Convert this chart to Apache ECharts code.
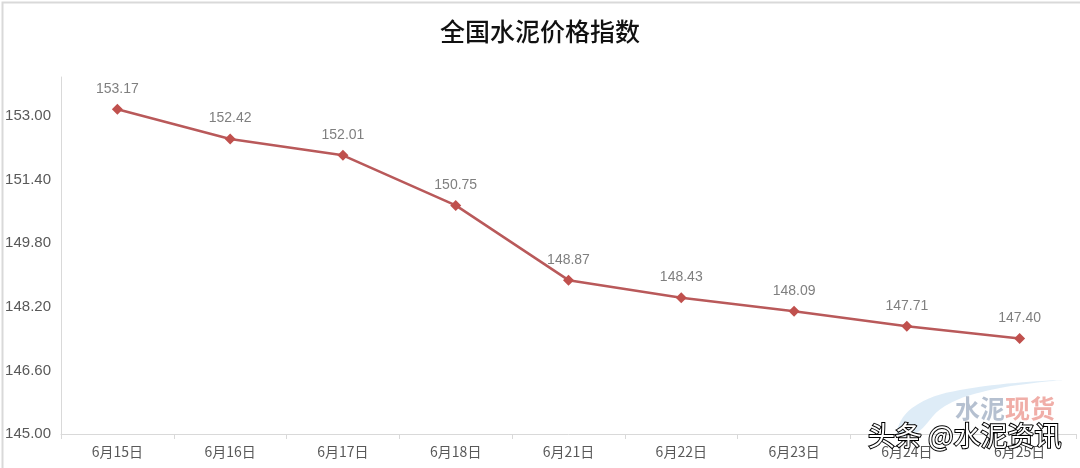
<!DOCTYPE html>
<html><head><meta charset="utf-8">
<script src="https://cdn.jsdelivr.net/npm/echarts@6/dist/echarts.min.js"></script>
<style>html,body{margin:0;padding:0;background:#fff}#c{width:1080px;height:468px}</style>
</head><body><div id="c"></div>
<script>
const categories = ['6月15日','6月16日','6月17日','6月18日','6月21日','6月22日','6月23日','6月24日','6月25日'];
const values = [153.17,152.42,152.01,150.75,148.87,148.43,148.09,147.71,147.40];
const yMin = 145, yMax = 153.98, yStep = 1.6;

const chart = echarts.init(document.getElementById('c'));
chart.setOption({
  backgroundColor: '#fff',
  animation: false,
  title: {
    text: '全国水泥价格指数', left: 'center', top: 14,
    textStyle: {fontFamily: 'Noto Sans CJK SC', fontSize: 25, fontWeight: 500, color: '#111'}
  },
  grid: {left: 61, right: 4, top: 77, bottom: 34},
  xAxis: {
    type: 'category', data: categories, boundaryGap: true,
    axisLine: {lineStyle: {color: '#d9d9d9', width: 1}},
    axisTick: {show: true, length: 5, lineStyle: {color: '#d9d9d9'}},
    axisLabel: {color: '#595959', fontSize: 14, margin: 11, fontFamily: 'Noto Sans CJK SC'}
  },
  yAxis: {
    type: 'value', min: yMin, max: yMax, interval: yStep,
    axisLine: {show: true, lineStyle: {color: '#d9d9d9', width: 1}},
    axisTick: {show: false},
    splitLine: {show: false},
    axisLabel: {color: '#595959', fontSize: 15, margin: 10, fontFamily: 'Liberation Sans',
      showMaxLabel: false, formatter: v => v.toFixed(2)}
  },
  series: [{
    type: 'line', data: values,
    symbol: 'diamond', symbolSize: 11,
    lineStyle: {color: '#B9595A', width: 2.5},
    itemStyle: {color: '#C0504D'},
    label: {show: true, position: 'top', distance: 8, color: '#7f7f7f', fontSize: 14,
      fontFamily: 'Liberation Sans', formatter: p => p.value.toFixed(2)}
  }],
  graphic: [
    {type: 'rect', left: 0, top: 0, shape: {width: 1079, height: 467},
      style: {fill: 'none', stroke: '#d9d9d9', lineWidth: 2}, silent: true},
    {type: 'polygon', z: 5, silent: true,
      shape: {smooth: 0.4, points: [[897,434],[912,408],[960,390],[1062,380],[995,389],[945,406],[915,434]]},
      style: {fill: 'rgba(160,200,232,0.35)'}},
    {type: 'text', left: 955, top: 396, z: 10,
      style: {text: '水泥', fill: 'rgba(120,140,170,0.55)', font: 'bold 25px "Noto Sans CJK SC"'}},
    {type: 'text', left: 1005, top: 396, z: 10,
      style: {text: '现货', fill: 'rgba(230,120,110,0.6)', font: 'bold 25px "Noto Sans CJK SC"'}},
    {type: 'text', left: 867, top: 421, z: 11,
      style: {text: '头条 @水泥资讯', fill: '#fff', stroke: '#000', lineWidth: 2,
        font: '27px "Noto Sans CJK SC"'}}
  ]
});
</script></body></html>
